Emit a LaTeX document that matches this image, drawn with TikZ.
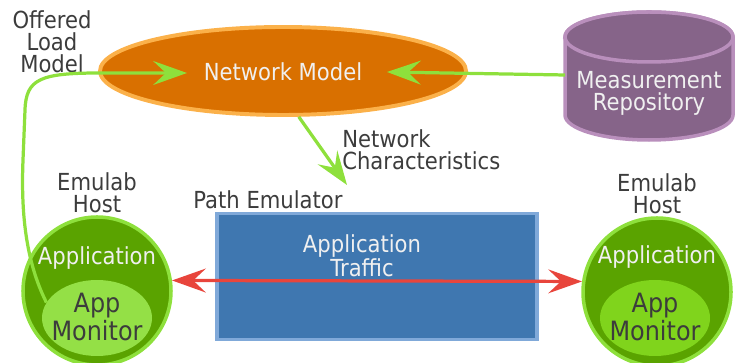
\documentclass[tikz,border=0pt]{standalone}
\usepackage{fontspec}
\setmainfont{DejaVu Sans}[FakeStretch=0.9]
\usetikzlibrary{positioning}
\usetikzlibrary{arrows.meta, shapes.geometric}

\definecolor{netfill}{RGB}{217,112,0}
\definecolor{netline}{RGB}{251,177,74}
\definecolor{repofill}{RGB}{134,100,137}
\definecolor{repoline}{RGB}{185,143,188}
\definecolor{pathfill}{RGB}{63,119,176}
\definecolor{pathline}{RGB}{128,169,217}
\definecolor{hostfill}{RGB}{90,163,0}
\definecolor{hostline}{RGB}{142,224,60}
\definecolor{monfill}{RGB}{148,224,70}
\definecolor{monfillb}{RGB}{128,212,28}
\definecolor{flowgreen}{RGB}{142,224,60}
\definecolor{flowred}{RGB}{232,69,60}
\definecolor{labelgray}{RGB}{60,60,60}
\definecolor{softwhite}{RGB}{240,240,240}

\tikzset{
  lbl/.style={font=\fontsize{16.7}{15.5}\selectfont, text=labelgray, align=center, inner sep=0pt},
  inlbl/.style={lbl, text=softwhite},
  monlbl/.style={lbl, font=\fontsize{18.9}{17}\selectfont},
  host/.style={circle, minimum size=3.7cm, fill=hostfill, draw=hostline, line width=2.5pt},
  flow/.style={draw=flowgreen, line width=2.3pt, -{Stealth[length=24pt,width=17pt,inset=9pt]}},
  traffic/.style={draw=flowred, line width=2.3pt, {Stealth[length=24pt,width=17pt,inset=9pt]}-{Stealth[length=24pt,width=17pt,inset=9pt]}},
}

\begin{document}
\begin{tikzpicture}
\useasboundingbox (0,0) rectangle (18.4,9.075);

% network model
\node[ellipse, minimum width=9.15cm, minimum height=2.2cm, fill=netfill, draw=netline, line width=2.8pt] (net) at (7.075,7.3) {};
\node[inlbl] (netlbl) at (7.075,7.275) {Network Model};

% measurement repository
\draw[fill=repofill,draw=repoline,line width=2.5pt] (14.125,8.15) -- (14.125,6.2) arc (180:360:2.1 and 0.625) -- (18.325,8.15) arc (0:180:2.1 and 0.625) -- cycle;
\draw[fill=repofill,draw=repoline,line width=2.5pt] (16.225,8.15) ellipse (2.1 and 0.625);
\node[inlbl] (repo) at (16.225,6.75) {Measurement\\Repository};
\coordinate (repoW) at (14.125,7.2);
\coordinate (netR) at (9.675,7.275);

% path emulator
\node[rectangle, minimum width=8.0cm, minimum height=3.15cm, fill=pathfill, draw=pathline, line width=2.5pt] (emu) at (9.425,2.1625) {};
\node[inlbl] (traf) at (9.05,2.675) {Application\\Traffic};
\node[lbl] (emulbl) at (6.7,4.075) {Path Emulator};

% emulab hosts
\node[host] (hostL) at (2.425,1.8) {};
\node[ellipse, minimum width=2.75cm, minimum height=1.9cm, fill=monfill] (monL) at (2.425,1.125) {};
\node[inlbl] (appL) at (2.425,2.625) {Application};
\node[monlbl] (monlblL) at (2.425,1.15) {App\\Monitor};
\node[lbl] (hostlblL) at (2.425,4.25) {Emulab\\Host};

\node[host] (hostR) at (16.425,1.775) {};
\node[ellipse, minimum width=2.75cm, minimum height=1.9cm, fill=monfillb] (monR) at (16.375,1.125) {};
\node[inlbl] (appR) at (16.425,2.65) {Application};
\node[monlbl] (monlblR) at (16.375,1.15) {App\\Monitor};
\node[lbl] (hostlblR) at (16.425,4.225) {Emulab\\Host};

% labels
\node[lbl] (offered) at (1.3,8.025) {Offered\\Load\\Model};
\node[lbl, align=left, anchor=west] (netchar) at (8.55,5.325) {Network\\Characteristics};
\coordinate (emuN) at (8.675,4.45);
\coordinate (netL) at (4.675,7.25);

% connectors
\draw[flow] (repoW) -- (netR);
\draw[flow] (net.-71) -- (emuN);
\draw[flow] (monL.163) .. controls (0.625,2.575) and (0.525,3.825) .. (0.575,5.075) -- (0.625,6.325) .. controls (0.65,7.1) and (1.0,7.25) .. (2.5,7.25) -- (netL);
\draw[traffic] (hostL.8) -- (hostR.172);

\end{tikzpicture}
\end{document}
